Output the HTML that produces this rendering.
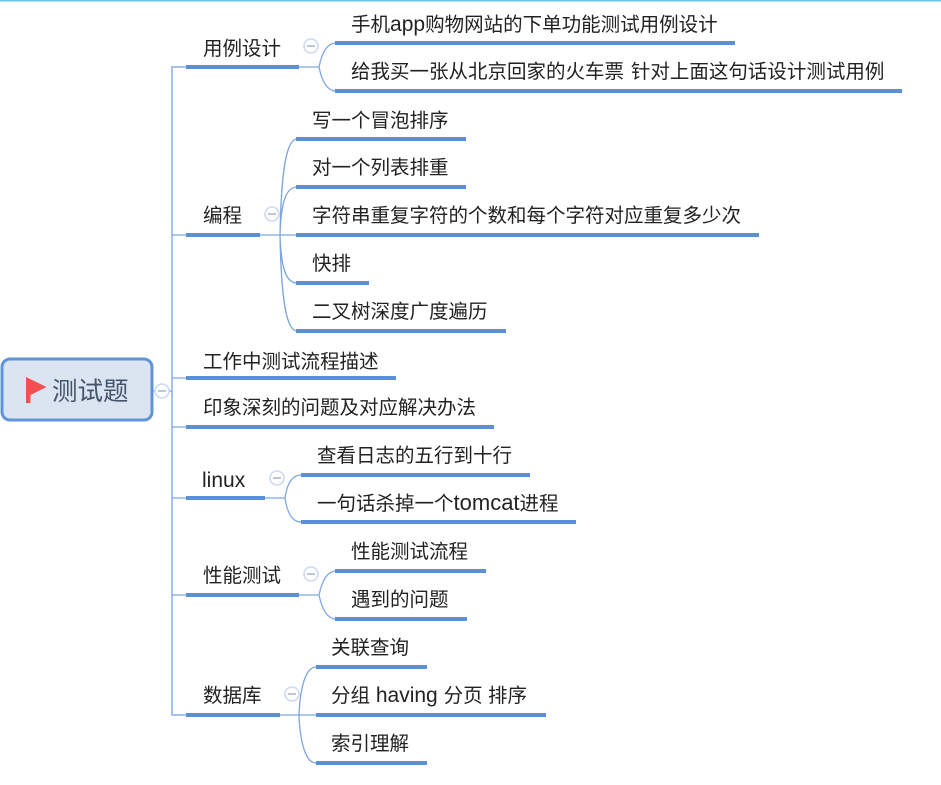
<!DOCTYPE html>
<html>
<head>
<meta charset="utf-8">
<style>
html,body{margin:0;padding:0;background:#fff;width:941px;height:785px;overflow:hidden}
svg{display:block}
text{font-family:"Liberation Sans","Noto Sans CJK SC",sans-serif;font-size:19.5px;fill:#222}
.l{font-size:21px}
.thin{fill:none;stroke:#7ea6df;stroke-width:1.3}
.trunk{fill:none;stroke:#a5c3ec;stroke-width:2}
.bar{stroke:#5b8fd6;stroke-width:4;stroke-linecap:butt}
.c{fill:#fff;stroke:#cdd9f1;stroke-width:1.6}
.m{stroke:#a9b4c8;stroke-width:1.5}
</style>
</head>
<body>
<svg width="941" height="785" viewBox="0 0 941 785" xmlns="http://www.w3.org/2000/svg">
<rect x="0" y="0" width="941" height="1.5" fill="#6ec6ea"/>

<!-- trunk -->
<path class="trunk" d="M186 67H172V715H186"/>
<path class="thin" d="M152 391H172M172 235H186M172 378H186M172 427H186M172 498H186M172 595H186"/>

<!-- connectors -->
<path class="thin" d="M299 67H319"/>
<path class="thin" d="M319 67C322 52 327 43 336 43M319 67C322 82 327 91 336 91"/>
<path class="thin" d="M260 235H296"/>
<path class="thin" d="M280 235C281 180 285 139 297 139M280 235C281 205 285 187 297 187M280 235C281 265 285 283 297 283M280 235C281 290 285 331 297 331"/>
<path class="thin" d="M265 498H285"/>
<path class="thin" d="M285 498C287 484 292 475 301 475M285 498C287 512 292 522 301 522"/>
<path class="thin" d="M299 595H319"/>
<path class="thin" d="M319 595C322 581 327 571 336 571M319 595C322 609 327 619 336 619"/>
<path class="thin" d="M280 715H316"/>
<path class="thin" d="M299 715C300 690 305 667 316 667M299 715C300 740 305 763 316 763"/>

<!-- bars -->
<path class="bar" d="M186 67H299M186 235H260M186 378H396M186 427H494M186 498H265M186 595H299M186 715H280"/>
<path class="bar" d="M335 43H735M335 91H902"/>
<path class="bar" d="M296 139H466M296 187H466M296 235H759M296 283H369M296 331H506"/>
<path class="bar" d="M301 475H530M301 522H576"/>
<path class="bar" d="M335 571H486M335 619H467"/>
<path class="bar" d="M316 667H427M316 715H546M316 763H427"/>

<!-- root -->
<rect x="2" y="359" width="150" height="61" rx="8" fill="#dbe5f2" stroke="#5f95d8" stroke-width="3"/>
<path d="M26 377L46.5 387L30.5 395V403H26Z" fill="#f25050"/>
<text x="52" y="400" style="font-size:25.5px;fill:#44546a">测试题</text>

<!-- collapse circles -->
<g>
<circle class="c" cx="162" cy="391" r="7"/><path class="m" d="M158 391H166"/>
<circle class="c" cx="311" cy="46" r="7"/><path class="m" d="M307 46H315"/>
<circle class="c" cx="272" cy="214" r="7"/><path class="m" d="M268 214H276"/>
<circle class="c" cx="277" cy="478" r="7"/><path class="m" d="M273 478H281"/>
<circle class="c" cx="311" cy="574" r="7"/><path class="m" d="M307 574H315"/>
<circle class="c" cx="292" cy="694" r="7"/><path class="m" d="M288 694H296"/>
</g>

<!-- branch labels -->
<text x="203" y="55">用例设计</text>
<text x="203" y="222">编程</text>
<text x="203" y="368">工作中测试流程描述</text>
<text x="203" y="414">印象深刻的问题及对应解决办法</text>
<text x="202" y="487" class="l">linux</text>
<text x="203" y="582">性能测试</text>
<text x="203" y="702">数据库</text>

<!-- leaves -->
<text x="351" y="31">手机<tspan class="l">app</tspan>购物网站的下单功能测试用例设计</text>
<text x="351" y="78">给我买一张从北京回家的火车票<tspan class="l" dx="1"> </tspan>针对上面这句话设计测试用例</text>
<text x="312" y="127">写一个冒泡排序</text>
<text x="312" y="174">对一个列表排重</text>
<text x="312" y="222">字符串重复字符的个数和每个字符对应重复多少次</text>
<text x="312" y="270">快排</text>
<text x="312" y="318">二叉树深度广度遍历</text>
<text x="317" y="462">查看日志的五行到十行</text>
<text x="317" y="510">一句话杀掉一个<tspan class="l" style="font-size:22px">tomcat</tspan>进程</text>
<text x="351" y="558">性能测试流程</text>
<text x="351" y="606">遇到的问题</text>
<text x="331" y="654">关联查询</text>
<text x="331" y="702">分组<tspan class="l"> having </tspan>分页<tspan class="l" style="font-size:19.5px"> </tspan>排序</text>
<text x="331" y="750">索引理解</text>
</svg>
</body>
</html>
